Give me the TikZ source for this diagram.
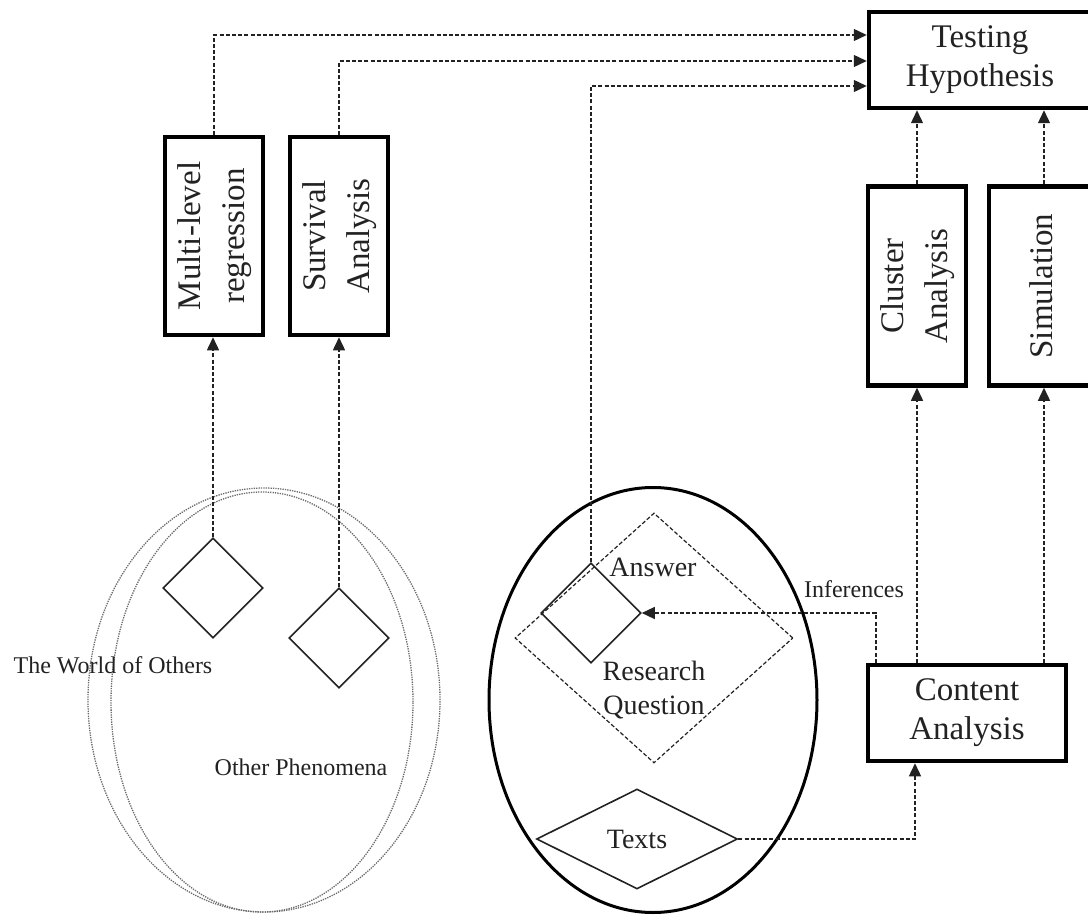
\documentclass[tikz,border=0pt]{standalone}
\usepackage{fontspec}
\setmainfont{Liberation Serif}
\usepackage{graphicx}
\usetikzlibrary{shapes.geometric,arrows.meta}

\definecolor{ink}{HTML}{222222}
\definecolor{dots}{HTML}{6A6A6A}

\newcommand\vlab[1]{\rotatebox{90}{\fontsize{33}{44}\selectfont\begin{tabular}{@{}c@{}}#1\end{tabular}}}

\tikzset{
  box/.style={draw=black, line width=4.5pt, rectangle, inner sep=0pt, text=ink},
  boxtext/.style={font=\fontsize{33}{39}\selectfont, align=center},
  flow/.style={draw=ink, line width=1.4pt, dash pattern=on 4pt off 2.2pt},
  tip/.style={-{Triangle[length=13pt,width=12pt]}},
  gem/.style={draw=ink, line width=1.6pt, diamond, inner sep=0pt},
  world/.style={draw=dots, line width=1.3pt, dash pattern=on 1.3pt off 1.1pt, ellipse, inner sep=0pt},
  midtext/.style={text=ink, font=\fontsize{28}{34}\selectfont, align=center},
  smalltext/.style={text=ink, font=\fontsize{24}{29}\selectfont}
}

\begin{document}
\begin{tikzpicture}[x=1pt, y=-1pt]
\useasboundingbox (0,0) rectangle (1088,915);
\clip (0,0) rectangle (1088,915);

% the two overlapping worlds on the left
\node[world, minimum width=352pt, minimum height=424pt] (wo) at (264,700) {};
\node[world, minimum width=302pt, minimum height=420pt] (op) at (262,702) {};
\node[smalltext] (wotxt) at (113,665) {The World of Others};
\node[smalltext] (optxt) at (301,767) {Other Phenomena};
\node[gem, minimum width=100pt, minimum height=100pt] (d1) at (213,588) {};
\node[gem, minimum width=100pt, minimum height=100pt] (d2) at (339,638) {};

% the context of the analyst
\node[draw=black, line width=3pt, ellipse, inner sep=0pt, minimum width=328pt, minimum height=425pt] (ctx) at (653,700) {};
\node[diamond, draw=ink, line width=1.2pt, dash pattern=on 4pt off 2.2pt, inner sep=0pt,
      minimum width=278pt, minimum height=250pt] (rq) at (654,638) {};
\node[gem, minimum width=100pt, minimum height=100pt] (ans) at (591,613) {};
\node[midtext] (anstxt) at (653,567) {Answer};
\node[midtext] (rqtxt) at (654,690) {Research\\Question};
\node[gem, minimum width=201pt, minimum height=100pt, text=ink, font=\fontsize{28}{34}\selectfont] (tx) at (637,839) {Texts};

% method boxes
\node[box, boxtext, minimum width=98pt, minimum height=198pt] (ml) at (214,236) {\vlab{Multi-level\\regression}};
\node[box, boxtext, minimum width=98pt, minimum height=198pt] (sa) at (339,236) {\vlab{Survival\\Analysis}};
\node[box, boxtext, minimum width=98pt, minimum height=199pt] (cl) at (917,286) {\vlab{Cluster\\Analysis}};
\node[box, boxtext, minimum width=110pt, minimum height=199pt] (sim) at (1044,286) {\vlab{Simulation}};
\node[box, boxtext, minimum width=222pt, minimum height=96pt] (th) at (980,60) {Testing\\Hypothesis};
\node[box, boxtext, minimum width=198pt, minimum height=96pt] (ca) at (967,713) {Content\\Analysis};

% connectors
\draw[flow, tip] (ml.north) |- ([yshift=25pt]th.west);
\draw[flow, tip] (sa.north) |- ([yshift=-1pt]th.west);
\draw[flow, tip] (ans.north) |- ([yshift=-26pt]th.west);
\draw[flow, tip] (cl.north) -- (cl.north |- th.south);
\draw[flow, tip] (sim.north) -- (sim.north |- th.south);
\draw[flow, tip] (ca.north -| cl.south) -- (cl.south);
\draw[flow, tip] (ca.north -| sim.south) -- (sim.south);
\draw[flow, tip] (d1.north) -- (d1.north |- ml.south);
\draw[flow, tip] (d2.north) -- (d2.north |- sa.south);
\draw[flow, tip] (tx.east) -| ([xshift=-52pt]ca.south);
\draw[flow, tip] ([xshift=-91pt]ca.north) |- (ans.east);
\node[smalltext] (inf) at (854,589) {Inferences};
\end{tikzpicture}
\end{document}
